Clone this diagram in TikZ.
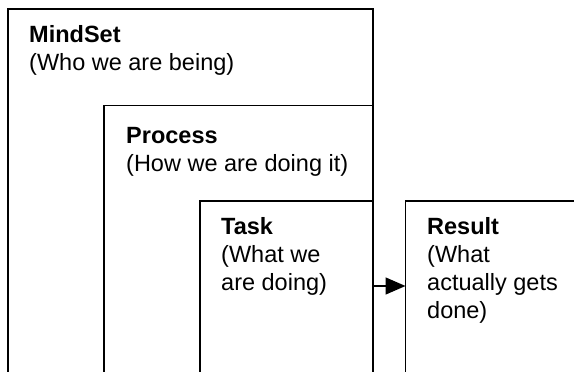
\documentclass[tikz,border=0pt]{standalone}
\usepackage{fontspec}
\setmainfont{Liberation Sans}
\usetikzlibrary{arrows.meta}
\begin{document}
\begin{tikzpicture}[x=1pt,y=-1pt,
  boxline/.style={line width=1.5pt,draw=black},
  lbl/.style={anchor=base west,inner sep=0pt,align=left,
    font=\fontsize{23.5}{28}\selectfont},
  conn/.style={line width=1.5pt,-{Triangle[length=20pt,width=17pt]}}]
\useasboundingbox (0,0) rectangle (574,372);
\clip (0,0) rectangle (574,372);
\fill[white] (0,0) rectangle (574,372);
\draw[boxline] (8,400) -- (8,9) -- (373,9) -- (373,400);
\draw[boxline] (104,400) -- (104,105.5) -- (373,105.5);
\draw[boxline] (200,400) -- (200,201) -- (373,201);
\draw[boxline] (405.5,400) -- (405.5,201) -- (600,201);
\node[lbl] (mind) at (29,70.7) {\textbf{MindSet}\\(Who we are being)};
\node[lbl] (proc) at (126,171.3) {\textbf{Process}\\(How we are doing it)};
\node[lbl] (task) at (221,290.3) {\textbf{Task}\\(What we\\are doing)};
\node[lbl] (res) at (427,318.3) {\textbf{Result}\\(What\\actually gets\\done)};
\coordinate (a1) at (373,286);
\coordinate (a2) at (405.5,286);
\draw[conn] (a1) -- (a2);
\end{tikzpicture}
\end{document}
